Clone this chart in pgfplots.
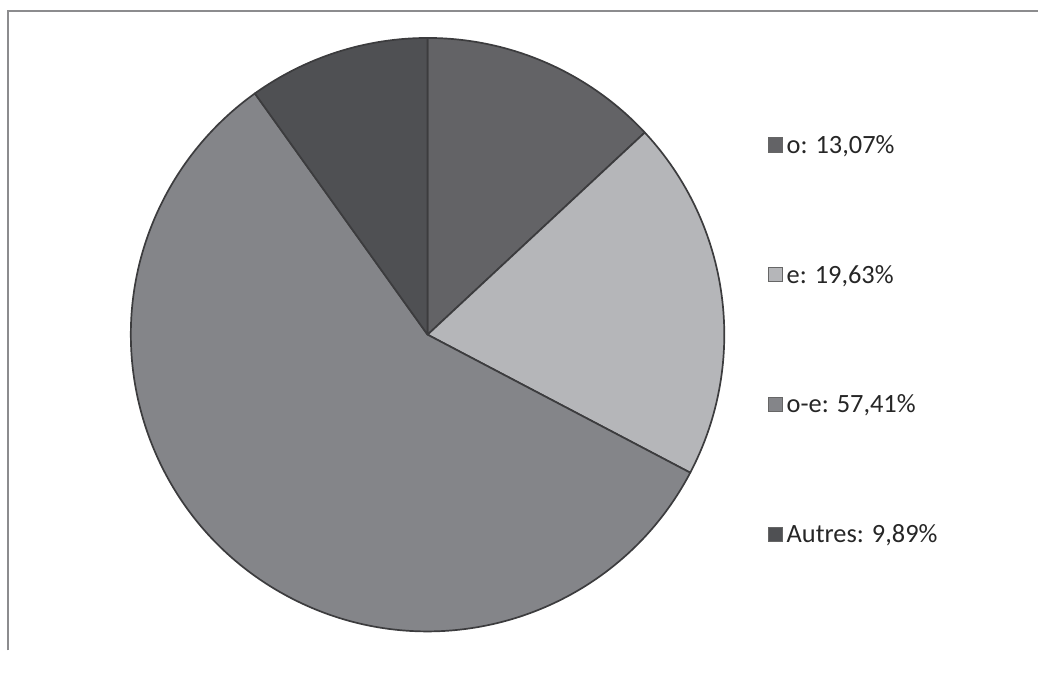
\documentclass[border=0pt]{standalone}
\usepackage{pgfplots}
\usepackage{pgfplotstable}
\usepackage{fontspec}
\setmainfont{Carlito}
\pgfplotsset{compat=1.18}
\definecolor{cO}{HTML}{636366}
\definecolor{cE}{HTML}{B5B6B9}
\definecolor{cOE}{HTML}{848589}
\definecolor{cA}{HTML}{4F5053}
\definecolor{edgec}{HTML}{3C3C3E}
\definecolor{framec}{HTML}{8C8C8E}
\definecolor{txt}{HTML}{262626}
\pgfplotstableread{
label value color
o 13.07 cO
e 19.63 cE
o-e 57.41 cOE
Autres 9.89 cA
}\piedata
\begin{document}
\begin{tikzpicture}
\begin{axis}[x=0.5pt,y=0.5pt,xmin=0,xmax=1039,ymin=0,ymax=651,
  hide axis, scale only axis, clip=false]
\path (axis cs:0,0) rectangle (axis cs:1039,651);
\draw[framec, line width=1pt] (axis cs:8,0) -- (axis cs:8,639.5) -- (axis cs:1039,639.5);
\def\angstart{90}
\pgfplotsforeachungrouped \i in {0,...,3}{%
  \pgfplotstablegetelem{\i}{value}\of\piedata \let\v\pgfplotsretval
  \pgfplotstablegetelem{\i}{color}\of\piedata \let\c\pgfplotsretval
  \pgfmathsetmacro\angend{\angstart-3.6*\v}%
  \edef\temp{\noexpand\filldraw[fill=\c, draw=edgec, line width=0.85pt, line join=round] (axis cs:428,316) -- ++(\angstart:148.5pt) arc[start angle=\angstart, end angle=\angend, radius=148.5pt] -- cycle;}%
  \temp
  \global\let\angstart\angend
}
\begin{scope}[every node/.style={font=\fontsize{13.2}{16}\selectfont, text=txt}]
\node[draw=black!60, fill=cO, minimum size=7.2pt, inner sep=0pt, line width=0.5pt] at (axis cs:776,506) {};
\node[anchor=west, inner sep=0pt] at (axis cs:787,505) {o: 13,07\%};
\node[draw=black!60, fill=cE, minimum size=7.2pt, inner sep=0pt, line width=0.5pt] at (axis cs:776,376) {};
\node[anchor=west, inner sep=0pt] at (axis cs:787,375) {e: 19,63\%};
\node[draw=black!60, fill=cOE, minimum size=7.2pt, inner sep=0pt, line width=0.5pt] at (axis cs:776,246) {};
\node[anchor=west, inner sep=0pt] at (axis cs:787,245) {o-e: 57,41\%};
\node[draw=black!60, fill=cA, minimum size=7.2pt, inner sep=0pt, line width=0.5pt] at (axis cs:776,116) {};
\node[anchor=west, inner sep=0pt] at (axis cs:787,115) {Autres: 9,89\%};
\end{scope}
\end{axis}
\end{tikzpicture}
\end{document}
